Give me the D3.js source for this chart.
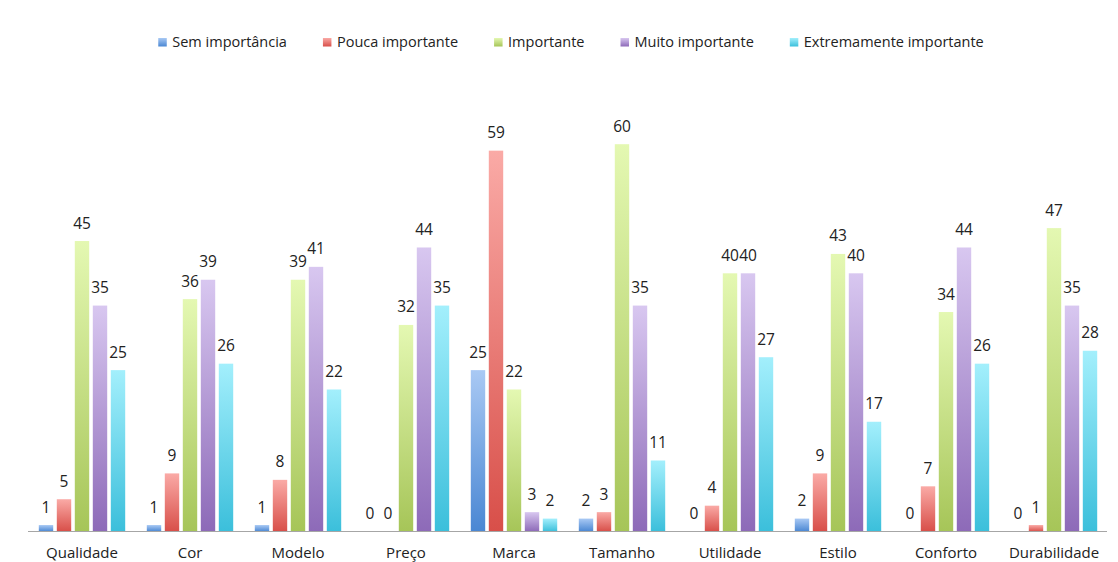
<!DOCTYPE html>
<html>
<head>
<meta charset="utf-8">
<script src="https://cdn.jsdelivr.net/npm/d3@7"></script>
<style>
  body { margin: 0; background: #fff; }
  svg { display: block; font-family: "Open Sans", sans-serif; }
</style>
</head>
<body>
<svg id="chart"></svg>
<script>
// categories and series
var categories = ["Qualidade", "Cor", "Modelo", "Preço", "Marca", "Tamanho", "Utilidade", "Estilo", "Conforto", "Durabilidade"]
var seriesNames = ["Sem importância", "Pouca importante", "Importante", "Muito importante", "Extremamente importante"]

var semImportancia = [1, 1, 1, 0, 25, 2, 0, 2, 0, 0]
var poucaImportante = [5, 9, 8, 0, 59, 3, 4, 9, 7, 1]
var importante = [45, 36, 39, 32, 22, 60, 40, 43, 34, 47]
var muitoImportante = [35, 39, 41, 44, 3, 35, 40, 40, 44, 35]
var extremamenteImportante = [25, 26, 22, 35, 2, 11, 27, 17, 26, 28]

var seriesValues = [semImportancia, poucaImportante, importante, muitoImportante, extremamenteImportante]

// gradient colours, light (top) -> dark (bottom)
var colors = [
    ["#a9c9f4", "#4a87d3"],
    ["#faaaa6", "#d84f49"],
    ["#e4f8b2", "#a6c558"],
    ["#d8c7f0", "#8d6ab8"],
    ["#a3effc", "#3bbfdb"]
]

var width = 1118, height = 562
var svg = d3.select("#chart")
    .attr("width", width)
    .attr("height", height)

var defs = svg.append("defs")
colors.forEach(function(c, i) {
    var g = defs.append("linearGradient")
        .attr("id", "grad" + i)
        .attr("x1", 0).attr("y1", 0)
        .attr("x2", 0).attr("y2", 1)
    g.append("stop").attr("offset", "0%").attr("stop-color", c[0])
    g.append("stop").attr("offset", "100%").attr("stop-color", c[1])
})

var x0 = d3.scaleBand()
    .domain(categories)
    .range([28, 1108])
    .paddingInner(0.2)
    .paddingOuter(0.1)

var x1 = d3.scaleBand()
    .domain(d3.range(seriesNames.length))
    .range([0, x0.bandwidth()])
    .paddingInner(0.2)

var y = d3.scaleLinear()
    .domain([0, 60])
    .range([531.5, 144.2])

// flat list of bars
var bars = []
categories.forEach(function(cat, ci) {
    seriesValues.forEach(function(vals, si) {
        bars.push({cat: cat, s: si, v: vals[ci]})
    })
})

var gBars = svg.append("g")

gBars.selectAll("rect")
    .data(bars.filter(d => d.v > 0))
    .enter()
    .append("rect")
    .attr("x", d => x0(d.cat) + x1(d.s))
    .attr("y", d => y(d.v))
    .attr("width", x1.bandwidth())
    .attr("height", d => y(0) - y(d.v))
    .attr("fill", d => "url(#grad" + d.s + ")")

gBars.selectAll("text")
    .data(bars)
    .enter()
    .append("text")
    .attr("x", d => x0(d.cat) + x1(d.s) + x1.bandwidth() / 2)
    .attr("y", d => y(d.v) - 12.5)
    .attr("text-anchor", "middle")
    .attr("font-size", "15.5px")
    .attr("fill", "#222")
    .text(d => d.v)

// x axis
var xAxis = svg.append("g")
    .attr("transform", "translate(0," + y(0) + ")")
    .call(d3.axisBottom(x0).tickSize(0).tickPadding(16).tickSizeOuter(0))

xAxis.select(".domain")
    .attr("d", "M28,0H1107")
    .attr("stroke", "#a6a6a6")
    .attr("stroke-width", 1.2)

xAxis.selectAll("text")
    .attr("font-size", "15px")
    .attr("font-family", "Open Sans, sans-serif")
    .attr("fill", "#222")

// legend
var legend = svg.append("g")
var items = legend.selectAll("g")
    .data(seriesNames)
    .enter()
    .append("g")

items.append("rect")
    .attr("x", 0)
    .attr("y", 38)
    .attr("width", 8.5)
    .attr("height", 8.5)
    .attr("fill", (d, i) => "url(#grad" + i + ")")

items.append("text")
    .attr("x", 14)
    .attr("y", 47)
    .attr("font-size", "14.5px")
    .attr("fill", "#222")
    .text(d => d)

var gap = 36
var widths = []
items.each(function() { widths.push(this.getBBox().width) })
var total = d3.sum(widths) + gap * (widths.length - 1)
var pos = 571 - total / 2
items.attr("transform", function(d, i) {
    var t = "translate(" + pos + ",0)"
    pos += widths[i] + gap
    return t
})
</script>
</body>
</html>
